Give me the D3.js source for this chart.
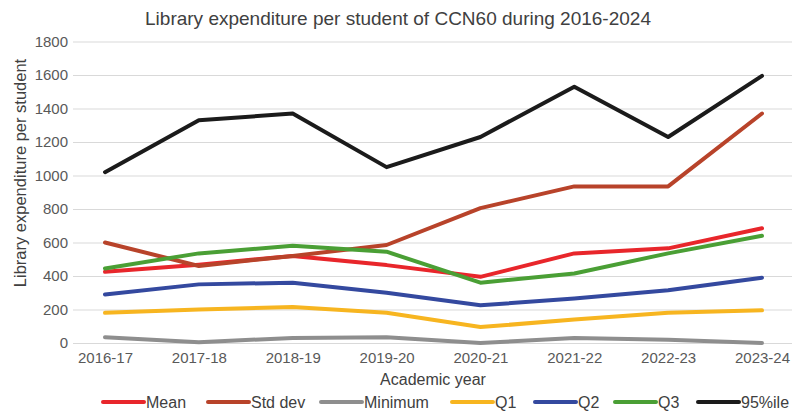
<!DOCTYPE html>
<html>
<head>
<meta charset="utf-8">
<script src="https://cdn.jsdelivr.net/npm/d3@7"></script>
<style>
  body { margin: 0; background: #fff; }
  svg text { font-family: "Liberation Sans", Arial, sans-serif; fill: #595959; }
</style>
</head>
<body>
<div class="chart-line"></div>
<script>
// data
var years = ["2016-17", "2017-18", "2018-19", "2019-20", "2020-21", "2021-22", "2022-23", "2023-24"];
var yTicks = [0, 200, 400, 600, 800, 1000, 1200, 1400, 1600, 1800];
var mean = [425, 467, 520, 465, 395, 535, 565, 685];
var stdDev = [600, 460, 520, 585, 805, 935, 935, 1370];
var minimum = [35, 5, 30, 35, 0, 30, 20, 0];
var q1 = [180, 200, 215, 180, 95, 140, 180, 195];
var q2 = [290, 350, 360, 300, 225, 265, 315, 390];
var q3 = [445, 535, 580, 545, 360, 415, 535, 640];
var p95 = [1020, 1330, 1370, 1050, 1230, 1530, 1230, 1595];

var series = [
  { name: "Mean", values: mean, color: "#e8262b" },
  { name: "Std dev", values: stdDev, color: "#b8432a" },
  { name: "Minimum", values: minimum, color: "#8e8e8e" },
  { name: "Q1", values: q1, color: "#f7b520" },
  { name: "Q2", values: q2, color: "#34499f" },
  { name: "Q3", values: q3, color: "#4a9f35" },
  { name: "95%ile", values: p95, color: "#1b1b1b" }
];

var width = 792, height = 411;
var svg = d3.select(".chart-line").append("svg")
  .attr("width", width)
  .attr("height", height);

var xScale = d3.scalePoint().domain(years).range([105, 762]);
var yScale = d3.scaleLinear().domain([0, 1800]).range([343, 41.5]);

// 网格线 + y轴
var yAxis = svg.append("g")
  .attr("transform", "translate(73, 0)")
  .call(d3.axisLeft(yScale).tickValues(yTicks).tickFormat(d3.format("d"))
    .tickSize(-(width - 73)).tickPadding(5));
yAxis.select(".domain").remove();
yAxis.selectAll("line").style("stroke", "#d9d9d9").style("stroke-width", 1.2);
yAxis.selectAll("text").style("font-size", "15px").style("fill", "#595959");

// x轴 labels
var xAxis = svg.append("g")
  .attr("transform", "translate(0, 343)")
  .call(d3.axisBottom(xScale).tickSize(0).tickPadding(9));
xAxis.select(".domain").remove();
xAxis.selectAll("text").style("font-size", "15px").style("fill", "#595959");

// title
svg.append("text")
  .attr("x", 398).attr("y", 25)
  .attr("text-anchor", "middle")
  .style("font-size", "19px")
  .style("fill", "#404040")
  .text("Library expenditure per student of CCN60 during 2016-2024");

// axis titles
svg.append("text")
  .attr("x", 433).attr("y", 385)
  .attr("text-anchor", "middle")
  .style("font-size", "16px")
  .style("fill", "#404040")
  .text("Academic year");
svg.append("text")
  .attr("transform", "translate(26, 173) rotate(-90)")
  .attr("text-anchor", "middle")
  .style("font-size", "16.5px")
  .style("fill", "#404040")
  .text("Library expenditure per student");

// lines
var line = d3.line()
  .x(function (d, i) { return xScale(years[i]); })
  .y(function (d) { return yScale(d); });

svg.selectAll(".series")
  .data(series)
  .enter()
  .append("path")
  .attr("class", "series")
  .attr("d", function (d) { return line(d.values); })
  .attr("fill", "none")
  .attr("stroke", function (d) { return d.color; })
  .attr("stroke-width", 4)
  .attr("stroke-linejoin", "round")
  .attr("stroke-linecap", "round");

// legend
var legendX = [103, 208, 321, 452, 535, 615, 698];
var legend = svg.selectAll(".legend")
  .data(series)
  .enter()
  .append("g")
  .attr("class", "legend")
  .attr("transform", function (d, i) { return "translate(" + legendX[i] + ", 402)"; });
legend.append("line")
  .attr("x1", 0).attr("x2", 41)
  .attr("y1", 0).attr("y2", 0)
  .attr("stroke", function (d) { return d.color; })
  .attr("stroke-width", 4)
  .attr("stroke-linecap", "round");
legend.append("text")
  .attr("x", 43).attr("y", 5.5)
  .style("font-size", "16px")
  .style("fill", "#404040")
  .text(function (d) { return d.name; });
</script>
</body>
</html>
